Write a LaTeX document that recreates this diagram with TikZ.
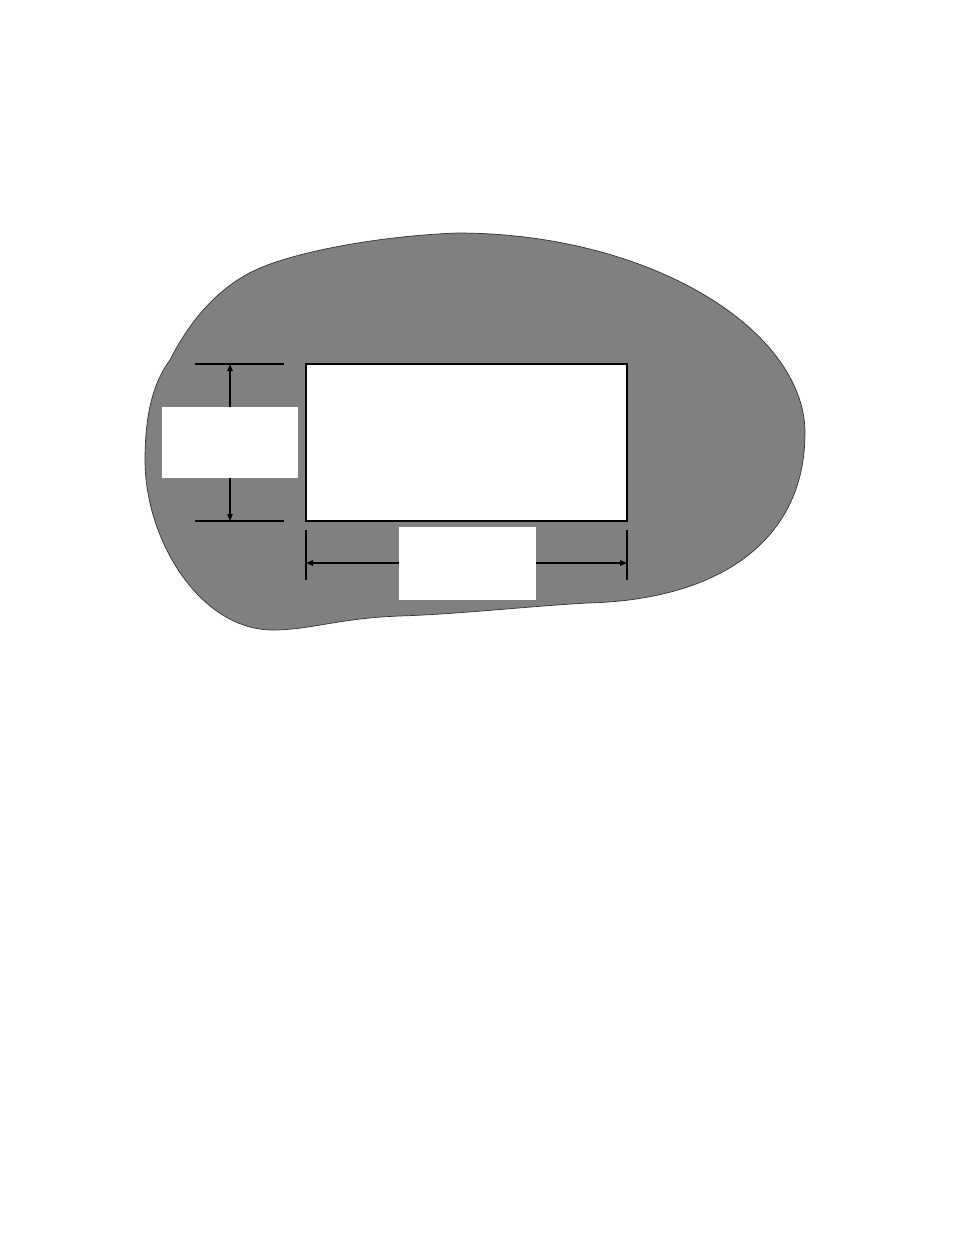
\documentclass[tikz,border=0pt]{standalone}
\usetikzlibrary{arrows.meta}
\definecolor{blobgray}{HTML}{808080}
\tikzset{
  blob/.style={fill=blobgray,draw=black!80,line width=0.7pt},
  plate/.style={draw=black,fill=white,line width=1.2pt,inner sep=0pt},
  labelbox/.style={fill=white,draw=none,inner sep=0pt},
  extline/.style={draw=black,line width=1.1pt},
  dimarrow/.style={draw=black,line width=1.1pt,-{Triangle[length=7pt,width=5.5pt]}}
}
\begin{document}
\begin{tikzpicture}[x=1pt,y=-1pt]
\useasboundingbox (0,0) rectangle (954,1259);
\fill[white] (0,0) rectangle (954,1259);
% blob
\draw[blob] (170,360)
  .. controls (190,320) and (220,285) .. (260,268)
  .. controls (300,251) and (380,236) .. (457,233)
  .. controls (650,233) and (805,330) .. (805,433)
  .. controls (805,540) and (720,600) .. (587,603)
  .. controls (520,607) and (460,614) .. (400,616)
  .. controls (340,618) and (310,630) .. (273,630)
  .. controls (200,630) and (145,540) .. (145,460)
  .. controls (145,410) and (155,380) .. cycle;
% plate
\node[plate,minimum width=321pt,minimum height=157pt] (plate) at (466.5,442.5) {};
% extension lines
\coordinate (vtop) at (230,364);
\coordinate (vbot) at (230,521);
\coordinate (etl) at (195,364);
\coordinate (etr) at (284,364);
\coordinate (ebl) at (195,521);
\coordinate (ebr) at (284,521);
\draw[extline] (etl) -- (etr);
\draw[extline] (ebl) -- (ebr);
\coordinate (hl) at (306,563);
\coordinate (hr) at (627,563);
\coordinate (elt) at (306,530);
\coordinate (elb) at (306,580);
\coordinate (ert) at (627,530);
\coordinate (erb) at (627,580);
\draw[extline] (elt) -- (elb);
\draw[extline] (ert) -- (erb);
% label boxes
\node[labelbox,minimum width=136pt,minimum height=71pt] (vlab) at (230,442.5) {};
\node[labelbox,minimum width=137pt,minimum height=73pt] (hlab) at (467.5,563.5) {};
% dimension arrows
\draw[dimarrow] (vlab.north) -- (vtop);
\draw[dimarrow] (vlab.south) -- (vbot);
\draw[dimarrow] (hlab.west |- hl) -- (hl);
\draw[dimarrow] (hlab.east |- hr) -- (hr);
\end{tikzpicture}
\end{document}
